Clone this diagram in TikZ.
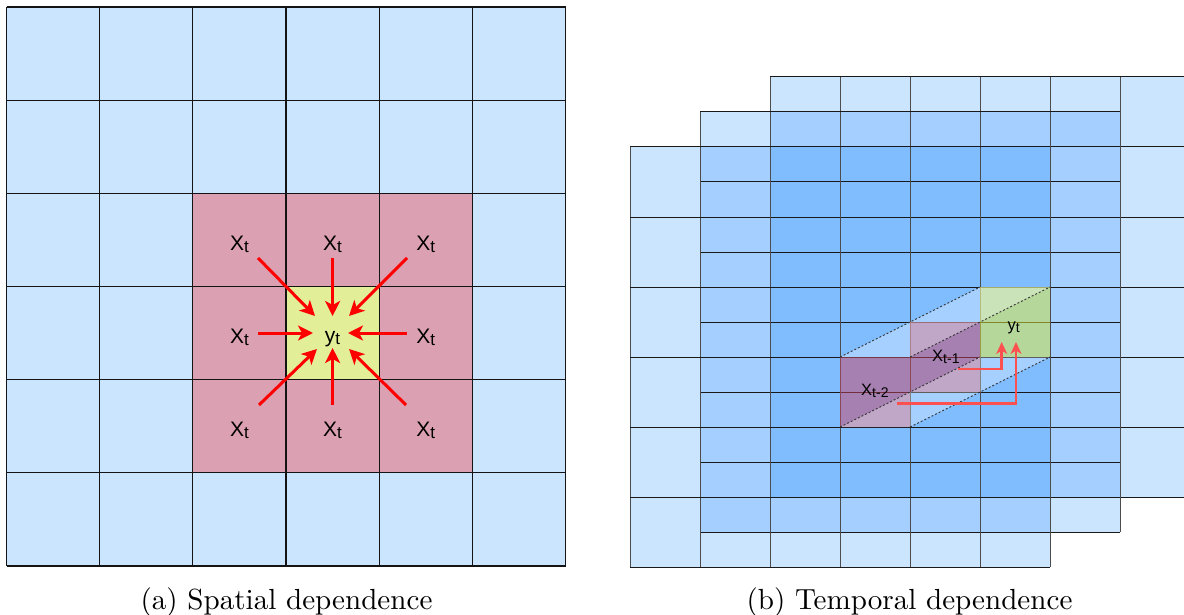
\documentclass[tikz,border=0pt]{standalone}
\usepackage{fontspec}
\newfontfamily\labfont{Liberation Sans}
\usetikzlibrary{arrows.meta}
\definecolor{lb}{RGB}{204,229,255}
\definecolor{mb}{RGB}{165,207,255}
\definecolor{db}{RGB}{128,189,255}
\definecolor{pinkc}{RGB}{219,160,177}
\definecolor{yelc}{RGB}{226,238,152}
\definecolor{purc}{RGB}{204,68,98}
\definecolor{grc}{RGB}{234,243,55}
\definecolor{arrc}{RGB}{255,80,80}
\newcommand\lsub[2]{\raisebox{-2pt}{\fontsize{#1}{#1}\selectfont #2}}
\tikzset{
  gridline/.style={draw=black!92, line width=1.2pt},
  hline/.style={draw=black!90, line width=1pt},
  vline/.style={draw=black!70, line width=1pt},
  biglab/.style={font={\labfont\fontsize{21}{21}\selectfont}, inner sep=0pt, anchor=base},
  smalllab/.style={font={\labfont\fontsize{16.5}{16.5}\selectfont}, inner sep=0pt, anchor=base west},
  sparrow/.style={draw=red, line width=3pt, -{Stealth[length=15pt,width=15pt,inset=4pt]}},
  tparrow/.style={draw=arrc, line width=2.5pt, -{Stealth[length=12pt,width=11pt,inset=3.5pt]}},
  prismedge/.style={draw=black!80, line width=0.9pt, dash pattern=on 2pt off 2pt},
  caption/.style={inner sep=0pt, anchor=base}
}
\begin{document}
\begin{tikzpicture}[x=1pt,y=-1pt]
\useasboundingbox (0,0) rectangle (1184,615);

% ---------- (a) spatial dependence ----------
\fill[lb] (6.5,7) rectangle (565.5,566);
\fill[pinkc] (192.8,193.3) rectangle (472.3,472.8);
\fill[yelc] (286,286.5) rectangle (379.2,379.7);
\foreach \i in {0,...,6}{
  \draw[gridline] ({6.5+\i*93.17},7) -- ({6.5+\i*93.17},566);
  \draw[gridline] (6.5,{7+\i*93.17}) -- (565.5,{7+\i*93.17});
}
\node[biglab] (x1) at (239.4,250) {X\lsub{17}{t}};
\node[biglab] (x2) at (332.6,250) {X\lsub{17}{t}};
\node[biglab] (x3) at (425.8,250) {X\lsub{17}{t}};
\node[biglab] (x4) at (239.4,343) {X\lsub{17}{t}};
\node[biglab] (yc) at (332.6,342) {y\lsub{17}{t}};
\node[biglab] (x5) at (425.8,343) {X\lsub{17}{t}};
\node[biglab] (x6) at (239.4,436.5) {X\lsub{17}{t}};
\node[biglab] (x7) at (332.6,436.5) {X\lsub{17}{t}};
\node[biglab] (x8) at (425.8,436.5) {X\lsub{17}{t}};

\coordinate (s1) at (258,258);   \coordinate (e1) at (315,316);
\coordinate (s2) at (332.6,258); \coordinate (e2) at (332.6,316);
\coordinate (s3) at (407,258);   \coordinate (e3) at (349,316);
\coordinate (s4) at (258,333);   \coordinate (e4) at (313,333);
\coordinate (s5) at (407,333);   \coordinate (e5) at (348,333);
\coordinate (s6) at (259,405);   \coordinate (e6) at (317,349);
\coordinate (s7) at (332.6,405); \coordinate (e7) at (332.6,348);
\coordinate (s8) at (406,405);   \coordinate (e8) at (349,349);
\foreach \k in {1,...,8}{ \draw[sparrow] (s\k) -- (e\k); }

% ---------- (b) temporal dependence ----------
\begin{scope}
\clip (0,0) rectangle (1184,615);
\fill[lb] (630,147) rectangle (1050,567);
\fill[lb] (700,112) rectangle (1120,532);
\fill[lb] (770,77) rectangle (1190,497);
\fill[mb] (700,147) rectangle (1050,532);
\fill[mb] (770,112) rectangle (1120,497);
\fill[db] (770,147) rectangle (1050,497);
\foreach \ox/\oy in {770/77, 700/112, 630/147}{
  \foreach \i in {0,...,6}{
    \draw[vline] ({\ox+\i*70},\oy) -- ({\ox+\i*70},{\oy+420});
    \draw[hline] (\ox,{\oy+\i*70}) -- ({\ox+420},{\oy+\i*70});
  }
}
\end{scope}
% highlighted cells
\fill[purc, fill opacity=0.5] (840,357) rectangle (910,427);
\fill[purc, fill opacity=0.5] (910,322) rectangle (980,392);
\fill[grc, fill opacity=0.5] (980,287) rectangle (1050,357);
% lighter top and bottom faces of the prism
\fill[white, fill opacity=0.3] (840,357) -- (910,357) -- (1050,287) -- (980,287) -- cycle;
\fill[white, fill opacity=0.3] (840,427) -- (910,427) -- (1050,357) -- (980,357) -- cycle;
% dashed edges
\coordinate (p1) at (840,357); \coordinate (q1) at (980,287);
\coordinate (p2) at (910,357); \coordinate (q2) at (1050,287);
\coordinate (p3) at (840,427); \coordinate (q3) at (980,357);
\coordinate (p4) at (910,427); \coordinate (q4) at (1050,357);
\foreach \k in {1,...,4}{ \draw[prismedge] (p\k) -- (q\k); }

\node[smalllab] (xm2) at (861,395) {X\lsub{14}{t-2}};
\node[smalllab] (xm1) at (932,361) {X\lsub{14}{t-1}};
\node[smalllab] (yt) at (1007.5,330) {y\lsub{14}{t}};

\coordinate (a1s) at (958,369);   \coordinate (a1e) at (1001.7,342);
\coordinate (a2s) at (897,403.5); \coordinate (a2e) at (1016,342);
\draw[tparrow] (a1s) -| (a1e);
\draw[tparrow] (a2s) -| (a2e);

% ---------- captions ----------
\node[caption] (capa) at (286.5,609) {\scalebox{2.91}{(a) Spatial dependence}};
\node[caption] (capb) at (909.5,609) {\scalebox{2.91}{(b) Temporal dependence}};
\end{tikzpicture}
\end{document}
